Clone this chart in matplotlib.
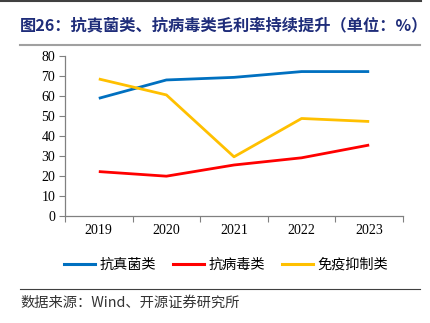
import matplotlib
matplotlib.use("Agg")
import matplotlib.pyplot as plt
from matplotlib.lines import Line2D

plt.rcParams['font.family'] = ['Liberation Serif', 'Noto Sans CJK SC', 'DejaVu Sans']

years = ["2019", "2020", "2021", "2022", "2023"]
antifungal = [58.8, 68.0, 69.3, 72.2, 72.2]
antiviral = [22.1, 19.8, 25.4, 29.0, 35.4]
immuno = [68.5, 60.5, 29.5, 48.7, 47.2]
series_names = ["抗真菌类", "抗病毒类", "免疫抑制类"]
colors = ["#0070C0", "#FF0000", "#FFC000"]
title = "图26：抗真菌类、抗病毒类毛利率持续提升（单位：%）"
source = "数据来源：Wind、开源证券研究所"

W, H = 431, 323
fig = plt.figure(figsize=(W / 100, H / 100), dpi=100)
ax = fig.add_axes([65 / W, 1 - 215.7 / H, (403 - 65) / W, (215.7 - 56) / H])

x = list(range(len(years)))
for vals, c in zip([antifungal, antiviral, immuno], colors):
    ax.plot(x, vals, color=c, lw=2.0, solid_capstyle='butt')

ax.set_xlim(-0.5, len(years) - 0.5)
ax.set_ylim(0, 80)
ax.set_yticks(range(0, 81, 10))
ax.set_xticks([i - 0.5 for i in range(len(years) + 1)], minor=False)
ax.set_xticklabels([])
ax.set_xticks(x, minor=True)
ax.set_xticklabels(years, minor=True)
ax.tick_params(axis='x', which='major', length=4, width=0.8, color='#808080', direction='out')
ax.tick_params(axis='x', which='minor', length=0, pad=6, labelsize=10)
ax.tick_params(axis='y', length=4, width=0.8, color='#808080', direction='out', labelsize=10, pad=3)
for s in ['top', 'right']:
    ax.spines[s].set_visible(False)
for s in ['left', 'bottom']:
    ax.spines[s].set_color('#808080')
    ax.spines[s].set_linewidth(0.9)

cjk = ['Noto Sans CJK SC', 'DejaVu Sans']
handles = [Line2D([], [], color=c, lw=2.2) for c in colors]
fig.legend(handles, series_names, loc='center', bbox_to_anchor=(226 / W, 1 - 265 / H), ncol=3,
           frameon=False, handlelength=2.2, columnspacing=1.15, handletextpad=0.35,
           prop={'family': cjk, 'size': 10.2})

fig.text(20 / W, 1 - 25 / H, title, family=cjk, fontweight='bold', fontsize=11.7,
         color='#1F2D7A', va='center', ha='left')
fig.add_artist(Line2D([0, 421 / W], [1 - 1 / H, 1 - 1 / H], color='#404040', lw=1.5))
fig.add_artist(Line2D([20 / W, 420 / W], [1 - 45 / H, 1 - 45 / H], color='#A0A0A0', lw=1.5))
fig.add_artist(Line2D([20 / W, 420 / W], [1 - 289 / H, 1 - 289 / H], color='#404040', lw=0.8))
fig.text(20 / W, 1 - 303 / H, source, family=cjk, fontsize=10.3, color='#333333',
         va='center', ha='left')

fig.savefig("out.png", dpi=100)
